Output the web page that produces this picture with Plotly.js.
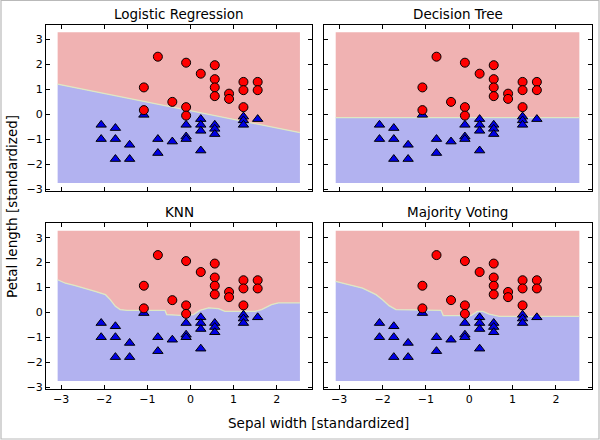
<!DOCTYPE html>
<html>
<head>
<meta charset="utf-8">
<script src="https://cdn.plot.ly/plotly-3.0.1.min.js"></script>
<style>html,body{margin:0;padding:0;background:#fff;}#chart{width:600px;height:440px;}</style>
</head>
<body>
<div id="chart"></div>
<script>
// ---- data ----
const panelTitles = ["Logistic Regression", "Decision Tree", "KNN", "Majority Voting"];
const xLabel = "Sepal width [standardized]";
const yLabel = "Petal length [standardized]";

// class 1 (red circles)
const redX = [-0.755, -0.10, 0.565, 0.24, 0.565, 0.565, 0.565, 1.23, 1.23, 1.56, 1.56, 0.896, 0.896, -1.08, -0.42, -0.10, -0.10, -1.08, 1.23];
const redY = [2.30, 2.06, 1.96, 1.62, 1.40, 1.07, 0.72, 1.29, 0.96, 1.29, 0.96, 0.82, 0.61, 1.07, 0.49, 0.28, -0.06, 0.16, 0.28];

// class 0 (blue triangles)
const blueX = [-2.07, -2.07, -1.74, -1.74, -1.41, -1.74, -1.41, -0.755, -0.755, -0.42, -0.10, -0.10, -0.10, 0.24, 0.24, 0.24, 0.24, 0.565, 0.565, 0.565, 1.23, 1.23, 1.23, 1.56, -1.08];
const blueY = [-0.43, -1.00, -0.56, -1.00, -1.23, -1.80, -1.80, -1.00, -1.56, -1.10, -0.43, -0.90, -1.00, -0.20, -0.43, -0.67, -1.46, -0.43, -0.59, -0.80, -0.10, -0.25, -0.43, -0.20, -0.03];

// extent of the decision-region mesh
const meshX = [-3.08, 2.54];
const meshY = [-2.76, 3.28];

// decision boundaries
const lrBoundX = [-3.08, 2.54];
const lrBoundY = [1.20, -0.74];

const treeBoundX = [-3.08, 2.54];
const treeBoundY = [-0.14, -0.14];

const knnBoundX = [-3.08, -2.90, -2.67, -2.44, -2.21, -1.97, -1.86, -1.74, -1.63, -1.47, -0.59, -0.55, -0.12, 0.07, 0.22, 0.42, 0.65, 0.80, 1.50, 1.65, 1.88, 2.04, 2.54];
const knnBoundY = [1.31, 1.17, 1.07, 0.97, 0.84, 0.71, 0.51, 0.24, 0.11, 0.08, 0.08, -0.09, -0.13, -0.09, 0.08, 0.18, 0.15, 0.04, 0.04, 0.11, 0.31, 0.38, 0.38];

const mvBoundX = [-3.08, -2.77, -2.46, -2.15, -2.00, -1.85, -1.69, -0.65, -0.60, 0.04, 0.19, 0.31, 0.46, 0.69, 2.54];
const mvBoundY = [1.24, 1.11, 0.97, 0.71, 0.51, 0.27, 0.11, 0.08, -0.13, -0.13, 0.04, 0.04, -0.07, -0.16, -0.16];

const xTicks = [-3, -2, -1, 0, 1, 2];
const yTicks = [-3, -2, -1, 0, 1, 2, 3];

// ---- styling ----
const RED_REGION = "rgb(240,178,178)";
const BLUE_REGION = "rgb(178,178,240)";
const EDGE_COLOR = "rgb(222,232,196)";
const FONT = "DejaVu Sans";

const bounds = [[lrBoundX, lrBoundY], [treeBoundX, treeBoundY], [knnBoundX, knnBoundY], [mvBoundX, mvBoundY]];

const traces = [];
bounds.forEach((b, i) => {
  const sfx = i === 0 ? "" : String(i + 1);
  const xa = "x" + sfx, ya = "y" + sfx;
  traces.push({x: meshX, y: [meshY[0], meshY[0]], xaxis: xa, yaxis: ya, mode: "lines", line: {width: 0, color: BLUE_REGION}, hoverinfo: "skip", showlegend: false});
  traces.push({x: b[0], y: b[1], xaxis: xa, yaxis: ya, mode: "lines", fill: "tonexty", fillcolor: BLUE_REGION, line: {width: 1.3, color: EDGE_COLOR}, hoverinfo: "skip", showlegend: false});
  traces.push({x: meshX, y: [meshY[1], meshY[1]], xaxis: xa, yaxis: ya, mode: "lines", fill: "tonexty", fillcolor: RED_REGION, line: {width: 0, color: RED_REGION}, hoverinfo: "skip", showlegend: false});
  traces.push({x: blueX, y: blueY, xaxis: xa, yaxis: ya, mode: "markers", marker: {symbol: "triangle-up", size: 9, color: "rgb(0,0,230)", line: {color: "black", width: 1}}, showlegend: false});
  traces.push({x: redX, y: redY, xaxis: xa, yaxis: ya, mode: "markers", marker: {symbol: "circle", size: 9, color: "rgb(255,0,0)", line: {color: "black", width: 1}}, showlegend: false});
});

const W = 600, H = 440;
const colDom = [[46 / W, 312 / W], [324 / W, 591.5 / W]];
const rowDom = [[1 - 191 / H, 1 - 24.5 / H], [1 - 389 / H, 1 - 223 / H]];

function axis(dom, range, tickv, showLabels, anchor) {
  return {
    domain: dom, range: range, anchor: anchor,
    tickmode: "array", tickvals: tickv,
    ticks: "inside", ticklen: 4, tickwidth: 1, tickcolor: "black",
    showline: true, linecolor: "black", linewidth: 1, mirror: "allticks",
    showgrid: false, zeroline: false, showticklabels: showLabels,
    tickfont: {family: FONT, size: 11, color: "black"}, fixedrange: true
  };
}

const layout = {
  width: W, height: H,
  margin: {l: 0, r: 0, t: 0, b: 0, pad: 0},
  paper_bgcolor: "white", plot_bgcolor: "white",
  showlegend: false,
  font: {family: FONT, color: "black"},
  annotations: [],
  shapes: [{type: "rect", xref: "paper", yref: "paper", x0: 1 / W, x1: 599 / W, y0: 1 / H, y1: 439.5 / H, line: {color: "rgb(185,185,185)", width: 1.2}, layer: "above"}]
};

const xRange = [-3.35, 2.82];
const yRange = [-3.08, 3.59];
for (let i = 0; i < 4; i++) {
  const r = Math.floor(i / 2), c = i % 2;
  const sfx = i === 0 ? "" : String(i + 1);
  layout["xaxis" + sfx] = axis(colDom[c], xRange, xTicks, r === 1, "y" + sfx);
  layout["yaxis" + sfx] = axis(rowDom[r], yRange, yTicks, c === 0, "x" + sfx);
  layout.annotations.push({
    text: panelTitles[i], xref: "paper", yref: "paper",
    x: (colDom[c][0] + colDom[c][1]) / 2, y: r === 0 ? 1 - 14 / H : 1 - 212 / H,
    xanchor: "center", yanchor: "middle", showarrow: false,
    font: {family: FONT, size: 13.5, color: "black"}
  });
}
layout.annotations.push({text: xLabel, xref: "paper", yref: "paper", x: (46 + 591.5) / 2 / W, y: 1 - 423 / H, xanchor: "center", yanchor: "middle", showarrow: false, font: {family: FONT, size: 13.5, color: "black"}});
layout.annotations.push({text: yLabel, xref: "paper", yref: "paper", x: 12 / W, y: 1 - 207 / H, xanchor: "center", yanchor: "middle", textangle: -90, showarrow: false, font: {family: FONT, size: 13.5, color: "black"}});

Plotly.newPlot("chart", traces, layout, {staticPlot: true, displayModeBar: false});
</script>
</body>
</html>
